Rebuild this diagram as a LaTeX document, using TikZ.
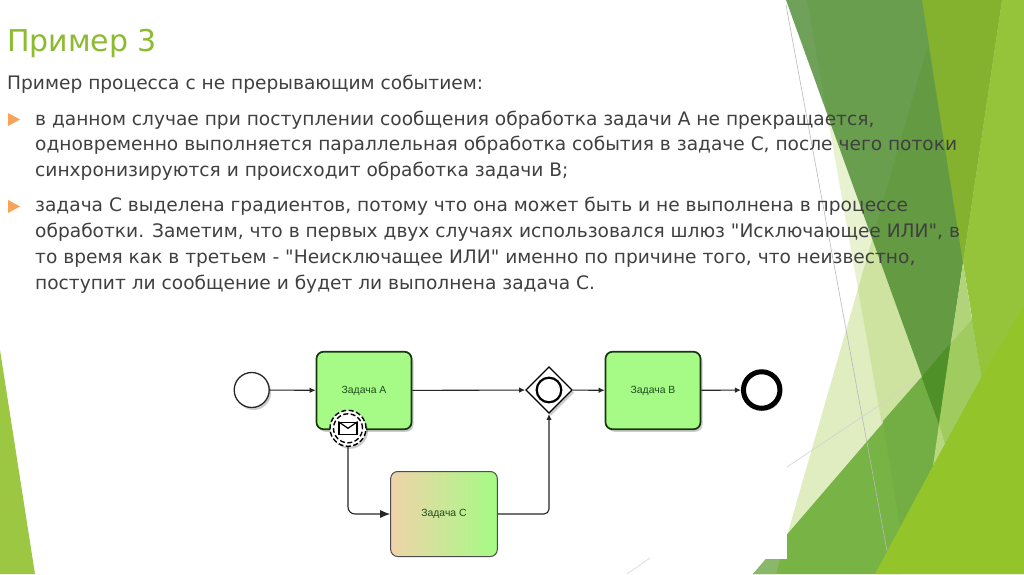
\documentclass[tikz,border=0pt]{standalone}
\usepackage{fontspec}
\setmainfont{DejaVu Sans}
\newfontfamily\slidefont{DejaVu Sans}
\newfontfamily\labelfont{Liberation Sans}
\usetikzlibrary{calc}
\usetikzlibrary{arrows.meta}
\usetikzlibrary{shapes.geometric}
\usetikzlibrary{shadows}
\definecolor{titlegreen}{HTML}{8CBB2F}
\definecolor{bodygrey}{HTML}{404040}
\definecolor{bulletorange}{HTML}{F7A35C}
\definecolor{taskgreen}{HTML}{A5FB85}
\definecolor{taskpeach}{HTML}{F0D3A9}
\definecolor{taskline}{HTML}{17380F}
\definecolor{labelgreen}{HTML}{1E4D1E}
\definecolor{leafleft}{RGB}{156,199,67}
\definecolor{leafpale}{RGB}{151,196,47}
\definecolor{leafmid}{RGB}{120,179,70}
\definecolor{leafmidlight}{RGB}{138,184,106}
\definecolor{leafmiddark}{RGB}{114,174,68}
\definecolor{leafdark}{RGB}{63,130,35}
\definecolor{leafdeep}{RGB}{79,144,40}
\definecolor{leafolive}{RGB}{132,178,47}
\definecolor{leaftop}{RGB}{149,196,59}
\definecolor{leafband}{RGB}{177,212,122}
\definecolor{leafbandmid}{RGB}{160,203,95}
\definecolor{leafbandpale}{RGB}{184,216,127}
\definecolor{leafbright}{RGB}{147,196,42}
\tikzset{
  softshadow/.style={drop shadow={shadow xshift=2pt,shadow yshift=-2.5pt,fill=black,opacity=.2}},
  bodytext/.style={anchor=north west,inner sep=0pt,align=left,text=bodygrey,font=\slidefont\fontsize{18.6}{25.8}\selectfont},
  tasklabel/.style={text=labelgreen,font=\labelfont\fontsize{10.4}{12}\selectfont},
  taskbox/.style={draw=taskline,line width=1.7pt,rounded corners=7pt,fill=taskgreen,minimum width=95pt,minimum height=77.5pt,inner sep=0pt,tasklabel,softshadow},
  flow/.style={draw=black!85,line width=1.1pt,-{Latex[length=6pt,width=5.5pt]}},
  msgline/.style={draw=black,line width=1.4pt,dash pattern=on 5pt off 2.5pt},
  bulletmark/.style={fill=bulletorange}
}
\begin{document}
\begin{tikzpicture}[x=1pt,y=-1pt]
\useasboundingbox (0,0) rectangle (1024,574);
\fill[white] (0,0) rectangle (1024,574);
\fill[leafleft] (0,350) -- (35,574) -- (0,574) -- cycle;
% pale wedges, then the green ones over them
\fill[leafpale,opacity=.3] (928,45) -- (776,574) -- (900,574) -- (939,424) -- (963,263) -- cycle;
\fill[leafpale,opacity=.22] (807,0) -- (900,527) -- (939,424) -- (1002,0) -- cycle;
\fill[leafmid] (753,574) -- (1024,259) -- (1024,574) -- cycle;
\fill[leafmidlight] (753,574) -- (766,559) -- (780,559) -- (776,574) -- cycle;
\fill[leafmiddark] (883,421) -- (900,527) -- (933,466) -- (939,424) -- (921.5,377) -- cycle;
\fill[leafdark,opacity=.75] (786,0) -- (1002,0) -- (939,424) -- cycle;
\fill[leafdeep] (921.5,377) -- (950.7,343) -- (939,424) -- cycle;
\fill[leafolive] (922,0) -- (1002,0) -- (963,263) -- cycle;
\fill[leaftop] (1002,0) -- (1024,0) -- (1024,574) -- (981.7,377) -- (963,263) -- cycle;
\fill[leafband] (963,263) -- (972,319) -- (950.7,343) -- (960,284) -- cycle;
\fill[leafbandmid] (950.7,343) -- (972,319) -- (981.7,377) -- (945,444) -- (939,424) -- cycle;
\fill[leafbandpale] (939,424) -- (945,444) -- (933,466) -- cycle;
\fill[leafbright] (875,574) -- (933,466) -- (981.7,377) -- (1024,305) -- (1024,574) -- cycle;
\fill[white] (560,300) rectangle (787,559);
\draw[gray!55,line width=.6pt] (786,5) -- (887,551);
\draw[gray!35,line width=.6pt] (787,467) -- (921.5,377) (627,574) -- (650,558);
\node[anchor=base west,inner sep=0pt,text=titlegreen,font=\fontsize{30}{36}\selectfont] (title) at (7,51) {Пример 3};
\node[bodytext] (intro) at (7,74.5) {Пример процесса с не прерывающим событием:};
\node[bodytext] (firstitem) at (35,110.5) {в данном случае при поступлении сообщения обработка задачи А не прекращается,\\одновременно выполняется параллельная обработка события в задаче С, после чего потоки\\синхронизируются и происходит обработка задачи В;};
\node[bodytext] (seconditem) at (35,197) {задача С выделена градиентов, потому что она может быть и не выполнена в процессе\\обработки. Заметим, что в первых двух случаях использовался шлюз "Исключающее ИЛИ", в\\то время как в третьем - "Неисключащее ИЛИ" именно по причине того, что неизвестно,\\поступит ли сообщение и будет ли выполнена задача С.};
\fill[bulletmark] (8,113) -- (20,119.5) -- (8,126) -- cycle (8,200) -- (20,206.5) -- (8,213) -- cycle;
\node[circle,draw=black!85,line width=1.3pt,fill=white,minimum size=35pt,inner sep=0pt,softshadow] (start) at (251.7,390) {};
\node[taskbox] (taska) at (364,390.5) {Задача А};
\node[taskbox] (taskb) at (653,390.5) {Задача В};
\node[draw=black!70,line width=1pt,rounded corners=7pt,left color=taskpeach,right color=taskgreen,minimum width=106.6pt,minimum height=85pt,inner sep=0pt,tasklabel] (taskc) at (444,514) {Задача С};
\node[diamond,draw=black,line width=1.3pt,fill=white,minimum size=46.6pt,inner sep=0pt,softshadow] (gate) at (549,390) {};
\node[circle,draw=black,line width=2.2pt,minimum size=24.6pt,inner sep=0pt] (gatering) at (gate) {};
\node[circle,draw=black,line width=5pt,fill=white,minimum size=36.5pt,inner sep=0pt,softshadow] (finish) at (761.7,390) {};
\node[circle,msgline,fill=white,minimum size=36pt,inner sep=0pt,softshadow] (msg) at (348,428.3) {};
\node[circle,msgline,minimum size=29pt,inner sep=0pt] (msgring) at (msg) {};
\node[rectangle,draw=black,line width=1.3pt,minimum width=18pt,minimum height=12pt,inner sep=0pt] (msgicon) at (msg) {};
\draw[line width=1.2pt] (msgicon.north west) -- (msgicon.center) -- (msgicon.north east);
\draw[flow] (start) -- (taska);
\draw[flow] (taska) -- (gate);
\draw[flow] (gate) -- (taskb);
\draw[flow] (taskb) -- (finish);
\draw[flow,rounded corners=7pt,-{Latex[length=10pt,width=8pt]}] (msg) |- (taskc);
\draw[flow,rounded corners=5pt] (taskc) -| (gate);
\end{tikzpicture}
\end{document}
